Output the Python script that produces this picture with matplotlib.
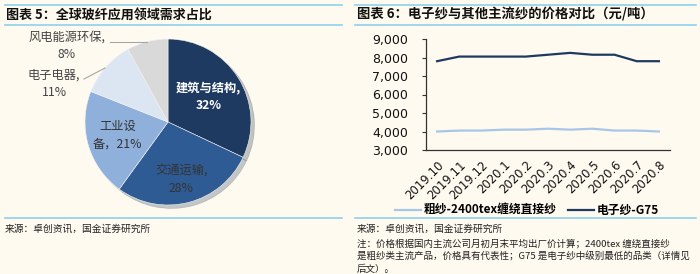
import matplotlib
matplotlib.use("Agg")
import matplotlib.pyplot as plt
from matplotlib.lines import Line2D

plt.rcParams['font.family'] = ['Noto Sans CJK SC', 'DejaVu Sans']

W, H = 700, 274
BG = '#FEFAEF'
RULE = '#8FD0EC'

# ---- data: glass fibre demand by application ----
pie_labels = ['建筑与结构', '交通运输', '工业设备', '电子电器', '风电能源环保']
pie_values = [32, 28, 21, 11, 8]
pie_colors = ['#1F3A60', '#2F5B94', '#8FB0DA', '#DCE6F3', '#D9D9D9']

# ---- data: monthly prices (yuan / ton) ----
months = ['2019.10', '2019.11', '2019.12', '2020.1', '2020.2', '2020.3',
          '2020.4', '2020.5', '2020.6', '2020.7', '2020.8']
roving_2400tex = [4000, 4050, 4050, 4100, 4100, 4150, 4100, 4150, 4050, 4050, 4000]
e_yarn_g75 = [7800, 8050, 8050, 8050, 8050, 8150, 8250, 8150, 8150, 7800, 7800]
yticks = [3000, 4000, 5000, 6000, 7000, 8000, 9000]


def box(x0, y0, x1, y1):
    """pixel box (top-left origin) -> figure rect"""
    return [x0 / W, 1 - y1 / H, (x1 - x0) / W, (y1 - y0) / H]


fig = plt.figure(figsize=(W / 100, H / 100), dpi=100, facecolor=BG)


def hrule(x0, x1, y, lw=1.2):
    fig.add_artist(Line2D([x0 / W, x1 / W], [1 - y / H, 1 - y / H],
                          color=RULE, lw=lw, transform=fig.transFigure))


def ftext(x, y, s, **kw):
    fig.text(x / W, 1 - y / H, s, **kw)


# headers and rules
for x0, x1 in [(5, 342), (355, 696)]:
    hrule(x0, x1, 4.5)
    hrule(x0, x1, 24.5)
    hrule(x0, x1, 218)

ftext(6, 14.5, '图表 5：全球玻纤应用领域需求占比', fontsize=9.4,
      fontweight='bold', va='center', ha='left', color='#111111')
ftext(357, 14.5, '图表 6：电子纱与其他主流纱的价格对比（元/吨）', fontsize=9.6,
      fontweight='bold', va='center', ha='left', color='#111111')

src = '来源：卓创资讯，国金证券研究所'
ftext(5, 228.5, src, fontsize=7.0, va='center', ha='left', color='#222222')
ftext(357, 228.5, src, fontsize=7.0, va='center', ha='left', color='#222222')
notes = ['注：价格根据国内主流公司月初月末平均出厂价计算；2400tex 缠绕直接纱',
         '是粗纱类主流产品，价格具有代表性；G75 是电子纱中级别最低的品类（详情见',
         '后文）。']
for i, line in enumerate(notes):
    ftext(357, 244 + i * 12.5, line, fontsize=6.85, va='center', ha='left',
          color='#222222')

# ---- pie ----
axp = fig.add_axes(box(85, 39, 251, 205))
axp.set_facecolor('none')
wedges, _ = axp.pie(pie_values, colors=pie_colors, startangle=90,
                    counterclock=False, radius=1.0,
                    wedgeprops=dict(edgecolor='#F4F4F4', linewidth=0.4),
                    shadow=dict(ox=0.03, oy=-0.03, shade=0.5, alpha=0.25))
axp.set_xlim(-1.0, 1.0)
axp.set_ylim(-1.0, 1.0)
axp.set_aspect('equal')
axp.axis('off')

lab_kw = dict(ha='center', va='center', fontsize=8.8, linespacing=1.45)
axp.text(0.49, 0.30, f'{pie_labels[0]},\n{pie_values[0]}%', color='white',
         fontweight='bold', **lab_kw)
axp.text(0.16, -0.70, f'{pie_labels[1]},\n{pie_values[1]}%', color='#333333',
         **lab_kw)
axp.text(-0.61, -0.16, '工业设\n备，' + f'{pie_values[2]}%', color='#333333',
         **lab_kw)

# outside labels with leader lines
ftext(54, 84, f'{pie_labels[3]},\n{pie_values[3]}%', color='#444444',
      **lab_kw)
ftext(67, 45.5, f'{pie_labels[4]},\n{pie_values[4]}%', color='#444444',
      **lab_kw)
fig.add_artist(Line2D([84 / W, 105 / W], [1 - 79 / H, 1 - 68 / H],
                      color='#A6A6A6', lw=0.8, transform=fig.transFigure))
fig.add_artist(Line2D([110 / W, 147 / W], [1 - 42 / H, 1 - 42 / H],
                      color='#A6A6A6', lw=0.8, transform=fig.transFigure))

# ---- price lines ----
ax = fig.add_axes(box(426, 39, 670, 150))
ax.set_facecolor('none')
x = list(range(len(months)))
l1, = ax.plot(x, roving_2400tex, color='#A9C6E8', lw=1.6,
              solid_joinstyle='round', label='粗纱-2400tex缠绕直接纱')
l2, = ax.plot(x, e_yarn_g75, color='#1F3A60', lw=1.6,
              solid_joinstyle='round', label='电子纱-G75')
ax.set_xlim(-0.5, len(months) - 0.5)
ax.set_ylim(3000, 9000)
ax.set_yticks(yticks)
ax.set_yticklabels([f'{v:,}' for v in yticks], fontsize=9.0,
                   family=['DejaVu Sans'])
ax.set_xticks(x)
ax.set_xticklabels(months, rotation=45, ha='right', va='top',
                   rotation_mode='anchor', fontsize=8.4, family=['DejaVu Sans'])
ax.tick_params(axis='y', length=3, width=0.8, color='#333333', pad=10,
               labelcolor='#111111')
ax.tick_params(axis='x', length=0, pad=6, labelcolor='#111111')
for s in ['top', 'right']:
    ax.spines[s].set_visible(False)
for s in ['left', 'bottom']:
    ax.spines[s].set_color('#333333')
    ax.spines[s].set_linewidth(0.9)

ax.legend(handles=[l1, l2], ncol=2, frameon=False, loc='center',
          bbox_to_anchor=(527 / W, 1 - 210.5 / H), bbox_transform=fig.transFigure,
          handlelength=2.2, handletextpad=0.3, columnspacing=0.9,
          prop={'weight': 'bold', 'size': 8.5})

fig.savefig('out.png', dpi=100, facecolor=BG)
